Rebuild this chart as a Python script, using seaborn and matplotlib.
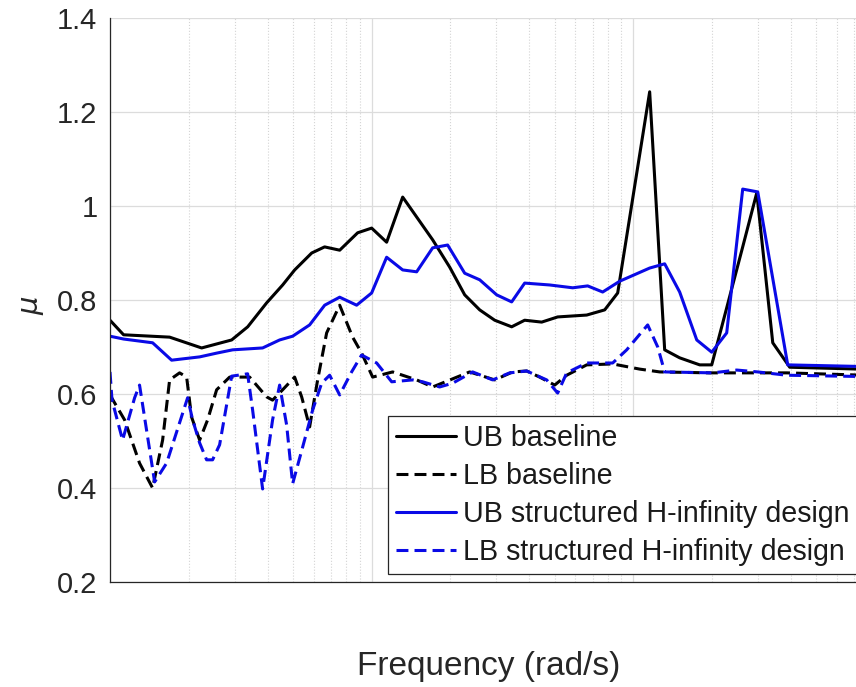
import matplotlib
matplotlib.use("Agg")
import matplotlib.pyplot as plt
from matplotlib.ticker import LogLocator, NullFormatter, FixedLocator
import numpy as np
import pandas as pd
import seaborn as sns

# Upper / lower bounds of the structured singular value mu versus frequency (rad/s)
freq_ub_base = [0.1, 0.1127, 0.169, 0.224, 0.2917, 0.336, 0.397, 0.457, 0.508, 0.590,
                0.661, 0.755, 0.884, 1.0, 1.141, 1.314, 1.711, 1.987, 2.268, 2.588,
                2.953, 3.429, 3.845, 4.466, 5.14, 6.636, 7.775, 8.717, 11.55, 13.18,
                15.04, 17.94, 19.94, 26.19, 29.64, 34.12, 39.62, 100]
mu_ub_base = [0.757, 0.726, 0.721, 0.698, 0.715, 0.743, 0.794, 0.832, 0.864, 0.900,
              0.913, 0.906, 0.943, 0.953, 0.923, 1.019, 0.928, 0.870, 0.811, 0.779,
              0.757, 0.743, 0.757, 0.753, 0.764, 0.768, 0.779, 0.815, 1.243, 0.694,
              0.677, 0.662, 0.662, 0.913, 1.028, 0.709, 0.657, 0.651]

freq_lb_base = [0.1, 0.1137, 0.1297, 0.1455, 0.1589, 0.169, 0.1845, 0.1963, 0.205, 0.2201,
                0.2361, 0.2556, 0.2866, 0.3417, 0.3968, 0.4182, 0.4569, 0.5078, 0.5401, 0.5794,
                0.6217, 0.673, 0.7547, 0.8459, 0.9158, 1.0088, 1.203, 1.486, 1.711, 2.369,
                2.953, 3.459, 3.913, 4.387, 5.007, 5.565, 6.636, 8.342, 10.58, 12.62,
                19.59, 38.58, 100]
mu_lb_base = [0.598, 0.545, 0.453, 0.400, 0.502, 0.630, 0.645, 0.636, 0.551, 0.502,
              0.545, 0.609, 0.636, 0.636, 0.594, 0.587, 0.609, 0.636, 0.594, 0.530,
              0.630, 0.730, 0.789, 0.721, 0.687, 0.636, 0.647, 0.630, 0.615, 0.647,
              0.630, 0.647, 0.649, 0.636, 0.619, 0.640, 0.662, 0.664, 0.653, 0.647,
              0.645, 0.645, 0.638]

freq_ub_hinf = [0.1, 0.1127, 0.1455, 0.172, 0.2201, 0.2556, 0.2943, 0.3831, 0.4449, 0.4989,
                0.5794, 0.6615, 0.7547, 0.8762, 1.0, 1.141, 1.314, 1.486, 1.711, 1.952,
                2.268, 2.588, 3.005, 3.429, 3.845, 4.791, 5.867, 6.694, 7.638, 8.873,
                11.55, 13.18, 15.04, 17.48, 19.94, 22.75, 26.19, 29.90, 38.92, 100]
mu_ub_hinf = [0.723, 0.717, 0.709, 0.672, 0.679, 0.687, 0.694, 0.698, 0.715, 0.723,
              0.747, 0.789, 0.806, 0.789, 0.815, 0.891, 0.864, 0.860, 0.911, 0.917,
              0.857, 0.843, 0.811, 0.796, 0.836, 0.832, 0.826, 0.830, 0.817, 0.840,
              0.868, 0.877, 0.817, 0.715, 0.689, 0.730, 1.036, 1.030, 0.662, 0.657]

freq_lb_hinf = [0.1, 0.1018, 0.1117, 0.1242, 0.1297, 0.1481, 0.1646, 0.198, 0.2069, 0.2201,
                0.234, 0.2467, 0.2624, 0.2917, 0.3357, 0.3508, 0.3831, 0.4182, 0.4449, 0.4733,
                0.4989, 0.5448, 0.595, 0.6441, 0.691, 0.7547, 0.8384, 0.9158, 1.045, 1.193,
                1.434, 1.567, 1.819, 2.04, 2.433, 2.901, 3.37, 3.913, 4.667, 5.14,
                5.565, 6.636, 8.342, 9.436, 11.35, 12.40, 13.18, 20.11, 24.85, 29.90,
                38.58, 100]
mu_lb_hinf = [0.647, 0.587, 0.502, 0.592, 0.619, 0.413, 0.453, 0.592, 0.545, 0.496,
              0.460, 0.460, 0.492, 0.638, 0.643, 0.566, 0.398, 0.545, 0.619, 0.534,
              0.409, 0.487, 0.566, 0.623, 0.640, 0.598, 0.647, 0.683, 0.666, 0.626,
              0.630, 0.626, 0.615, 0.623, 0.647, 0.630, 0.645, 0.649, 0.630, 0.602,
              0.645, 0.666, 0.666, 0.694, 0.747, 0.700, 0.647, 0.645, 0.651, 0.647,
              0.640, 0.636]

labels = ["UB baseline", "LB baseline",
          "UB structured H-infinity design", "LB structured H-infinity design"]
y_ticks = [0.2, 0.4, 0.6, 0.8, 1.0, 1.2, 1.4]
y_tick_labels = ["0.2", "0.4", "0.6", "0.8", "1", "1.2", "1.4"]

sns.set_theme(style="white")
plt.rcParams["font.family"] = ["Liberation Sans", "DejaVu Sans"]
plt.rcParams["mathtext.fontset"] = "dejavusans"

fig = plt.figure(figsize=(8.56, 6.87), dpi=100)
ax = fig.add_axes([0.1285, 0.1528, 0.917, 0.821])

series = [
    (freq_ub_base, mu_ub_base, "black", False),
    (freq_lb_base, mu_lb_base, "black", True),
    (freq_ub_hinf, mu_ub_hinf, "#0a0ae6", False),
    (freq_lb_hinf, mu_lb_hinf, "#0a0ae6", True),
]
for (fx, fy, col, dashed), lab in zip(series, labels):
    df = pd.DataFrame({"freq": fx, "mu": fy})
    sns.lineplot(data=df, x="freq", y="mu", ax=ax, color=col, linewidth=2.2,
                 estimator=None, sort=False, label=lab, legend=False)
    if dashed:
        ax.lines[-1].set_dashes((3.9, 2.0))

ax.set_xscale("log")
ax.set_xlim(0.1, 100)
ax.set_ylim(0.2, 1.4)
ax.yaxis.set_major_locator(FixedLocator(y_ticks))
ax.set_yticklabels(y_tick_labels)
ax.xaxis.set_major_locator(LogLocator(base=10, numticks=10))
ax.xaxis.set_minor_locator(LogLocator(base=10, subs=np.arange(2, 10), numticks=100))
ax.xaxis.set_minor_formatter(NullFormatter())
ax.tick_params(axis="x", which="both", labelbottom=False, direction="in")
ax.tick_params(axis="x", which="major", length=5, width=0.8, color="#262626")
ax.tick_params(axis="x", which="minor", length=2.5, width=0.6, color="#262626")
ax.tick_params(axis="y", which="major", direction="in", length=5.5, width=0.8,
               color="#262626", labelsize=21, labelcolor="#262626", pad=9)

# MATLAB-like grid: solid major lines, dotted minor lines on the frequency axis
ax.grid(True, which="major", axis="both", color="#dcdcdc", linewidth=0.9, linestyle="-")
ax.grid(True, which="minor", axis="x", color="#d4d4d4", linewidth=0.8, linestyle=":")
ax.set_axisbelow(True)

for side in ["top", "right"]:
    ax.spines[side].set_visible(False)
for side in ["left", "bottom"]:
    ax.spines[side].set_color("#262626")
    ax.spines[side].set_linewidth(0.9)

ax.set_xlabel("Frequency (rad/s)", fontsize=24, color="#262626")
ax.xaxis.set_label_coords(0.483, -0.122)
ax.set_ylabel(r"$\mu$", fontsize=21, color="#262626")
ax.yaxis.set_label_coords(-0.082, 0.49)

leg = ax.legend(loc="upper left", bbox_to_anchor=(0.354, 0.294), borderaxespad=0,
                fontsize=20.6, frameon=True, fancybox=False, framealpha=1,
                handlelength=2.1, handletextpad=0.25, labelspacing=0.35,
                borderpad=0.28)
leg.get_frame().set_edgecolor("#262626")
leg.get_frame().set_linewidth(0.9)
for t in leg.get_texts():
    t.set_color("#1a1a1a")

fig.savefig("out.png", dpi=100)
